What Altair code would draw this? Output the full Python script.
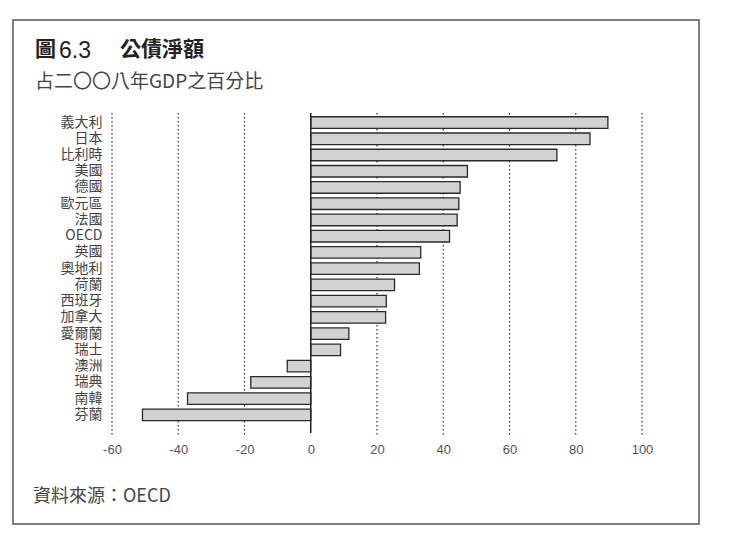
import altair as alt
import pandas as pd

countries = ["義大利", "日本", "比利時", "美國", "德國", "歐元區", "法國", "OECD", "英國",
             "奧地利", "荷蘭", "西班牙", "加拿大", "愛爾蘭", "瑞士", "澳洲", "瑞典", "南韓", "芬蘭"]
values = [89.7, 84.3, 74.3, 47.3, 45.1, 44.7, 44.2, 41.9, 33.2,
          32.8, 25.3, 22.8, 22.6, 11.5, 9.0, -7.1, -18.1, -37.2, -50.8]
x_ticks = [-60, -40, -20, 0, 20, 40, 60, 80, 100]
grid_values = [-60, -40, -20, 20, 40, 60, 80, 100]
title_fig = "圖"
title_num = "6.3"
title_main = "公債淨額"
subtitle = "占二〇〇八年GDP之百分比"
source = "資料來源：OECD"

CJK = "Noto Sans CJK TC"
W, H = 530, 322

df = pd.DataFrame({"country": countries, "value": values})
zero_df = pd.DataFrame({"value": [0]})
grid_df = pd.DataFrame({"value": grid_values})

x_enc = alt.X("value:Q",
              scale=alt.Scale(domain=[-60, 100], nice=False, zero=False),
              axis=alt.Axis(values=x_ticks, title=None, grid=False,
                            domain=False, ticks=False, labelPadding=8,
                            labelFlush=False, labelExpr="'' + datum.value",
                            labelFontSize=13, labelColor="#555555",
                            labelFont="Liberation Sans"))

grid = alt.Chart(grid_df).mark_rule(
    color="#333333", strokeWidth=1.2, strokeDash=[1.5, 2.5]
).encode(x=x_enc, y=alt.value(0), y2=alt.value(H))

bars = alt.Chart(df).mark_bar(
    fill="#d2d2d2", stroke="#2a2a2a", strokeWidth=1.3
).encode(
    x=x_enc,
    y=alt.Y("country:N", sort=None,
            scale=alt.Scale(range=[1.4, 310], paddingInner=0.29, paddingOuter=0.145),
            axis=alt.Axis(title=None, grid=False, domain=False, ticks=False,
                          labelPadding=10, labelFontSize=14, labelColor="#444444",
                          labelFont=CJK)),
)

zero = alt.Chart(zero_df).mark_rule(
    color="#222222", strokeWidth=1.5
).encode(x=x_enc, y=alt.value(0), y2=alt.value(H - 2))

frame = alt.Chart(pd.DataFrame({"a": [0]})).mark_rect(
    fillOpacity=0, stroke="#555555", strokeWidth=1.5
).encode(x=alt.value(-99), x2=alt.value(587), y=alt.value(-93), y2=alt.value(411))

def label(txt, x, y, size, weight="normal", color="#333333", font=CJK):
    return alt.Chart(pd.DataFrame({"t": [txt]})).mark_text(
        align="left", baseline="middle", font=font, fontSize=size,
        fontWeight=weight, color=color
    ).encode(text="t:N", x=alt.value(x), y=alt.value(y))

t1 = label(title_fig, -77, -63, 21, "bold", "#222222")
t1b = label(title_num, -53, -62, 23, "normal", "#222222", "Liberation Sans")
t2 = label(title_main, 8, -63, 21, "bold", "#222222")
t3 = label(subtitle, -77, -31, 19, "normal", "#444444")
t4 = label(source, -79, 384, 18, "normal", "#444444")

chart = alt.layer(frame, grid, bars, zero, t1, t1b, t2, t3, t4).properties(
    width=W, height=H,
    autosize=alt.AutoSizeParams(type="none"),
    padding={"left": 104, "top": 105, "right": 80, "bottom": 95},
    background="white",
).configure_view(strokeWidth=0)

chart.save("out.html", embed_options={"renderer": "svg", "actions": False})
